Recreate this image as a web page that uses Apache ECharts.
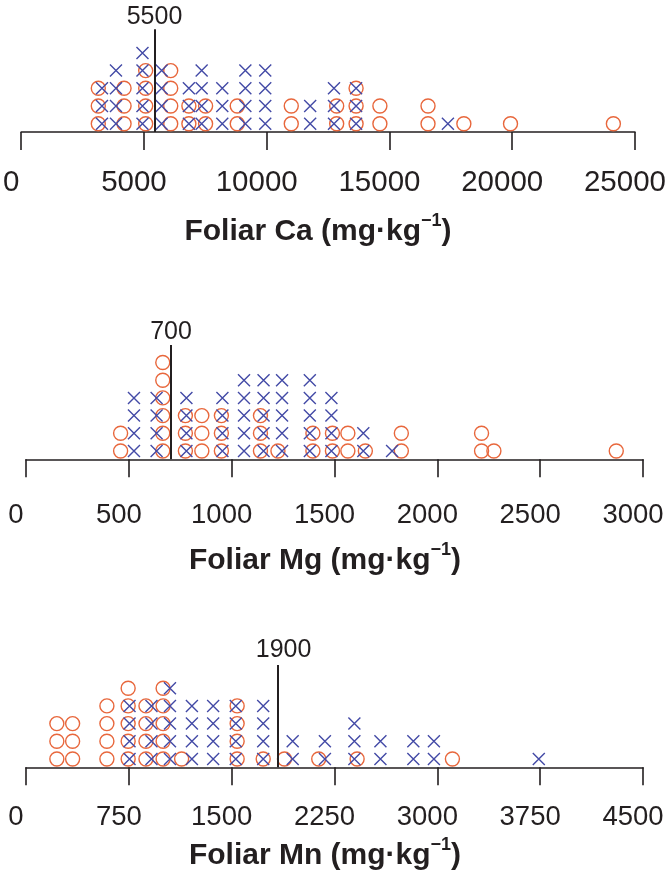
<!DOCTYPE html>
<html>
<head>
<meta charset="utf-8">
<script src="https://cdn.jsdelivr.net/npm/echarts@6/dist/echarts.min.js"></script>
<style>
  html, body { margin: 0; padding: 0; background: #fff; }
  #main { width: 669px; height: 891px; }
</style>
</head>
<body>
<div id="main"></div>
<script>
// Foliar Ca: x value of each stack and how many points are stacked there
var caCircleX = [3140, 4190, 5070, 6090, 6830, 7510, 8800, 11000, 12850, 13640, 14610, 16570, 18030, 19930, 24120];
var caCircleN = [3, 3, 4, 4, 2, 2, 2, 2, 2, 3, 2, 2, 1, 1, 1];
var caCrossX = [3290, 3860, 4940, 5720, 6830, 7350, 8190, 9130, 9940, 11770, 12740, 13640, 17380];
var caCrossN = [3, 4, 5, 4, 3, 4, 3, 4, 4, 2, 3, 3, 1];

// Foliar Mg
var mgCircleX = [460, 665, 775, 855, 950, 1140, 1225, 1395, 1490, 1565, 1650, 1825, 2215, 2275, 2870];
var mgCircleN = [2, 6, 3, 3, 3, 3, 1, 2, 2, 2, 1, 2, 2, 1, 1];
var mgCrossX = [525, 635, 780, 955, 1060, 1155, 1245, 1380, 1485, 1640, 1780];
var mgCrossN = [4, 4, 4, 4, 5, 5, 5, 5, 4, 2, 1];

// Foliar Mn
var mnCircleX = [225, 340, 590, 745, 875, 1000, 1135, 1540, 1730, 1885, 2135, 2415, 3110];
var mnCircleN = [3, 3, 4, 5, 4, 5, 1, 4, 1, 1, 1, 1, 1];
var mnCrossX = [755, 915, 1050, 1210, 1365, 1530, 1730, 1945, 2180, 2395, 2585, 2825, 2975, 3740];
var mnCrossN = [4, 4, 5, 4, 4, 4, 4, 2, 2, 3, 2, 2, 2, 1];

// axes and reference lines
var axisMax = [25000, 3000, 4500];
var axisStep = [5000, 500, 750];
var lineAt = [5430, 705, 1835];
var lineLabel = ['5500', '700', '1900'];
var titles = ['Foliar Ca', 'Foliar Mg', 'Foliar Mn'];

var ORANGE = '#e8673c';
var BLUE = '#434aa6';
var INK = '#231f20';
var FONT = "'Liberation Sans', Arial, Helvetica, sans-serif";
var CROSS = 'path://M0,0L10,10M10,0L0,10';

// layout of each panel (pixels)
var ROW = 17.7, YMIN = 0.53, YMAX = 7.53;
var panels = [
  { left: 20, width: 616, axisY: 132, lineTop: 6.33, margin: 36, tickFont: 29.5, titleX: 318, titleY: 232, labelDist: 0, labelDx: 0 },
  { left: 26, width: 617, axisY: 459.3, lineTop: 6.99, margin: 42, tickFont: 27.5, titleX: 325, titleY: 561, labelDist: 0, labelDx: 0 },
  { left: 26, width: 617, axisY: 767.3, lineTop: 6.31, margin: 36, tickFont: 27.5, titleX: 325, titleY: 856, labelDist: 2, labelDx: 6 }
];

function stack(xs, ns) {
  var pts = [];
  for (var i = 0; i < xs.length; i++) {
    for (var k = 1; k <= ns[i]; k++) {
      pts.push([xs[i], k]);
    }
  }
  return pts;
}

var circles = [stack(caCircleX, caCircleN), stack(mgCircleX, mgCircleN), stack(mnCircleX, mnCircleN)];
var crosses = [stack(caCrossX, caCrossN), stack(mgCrossX, mgCrossN), stack(mnCrossX, mnCrossN)];

var grid = [], xAxis = [], yAxis = [], series = [], graphic = [];

for (var i = 0; i < 3; i++) {
  var p = panels[i];
  var h = (YMAX - YMIN) * ROW;
  grid.push({ left: p.left, width: p.width, top: p.axisY - h, height: h });
  xAxis.push({
    type: 'value',
    gridIndex: i,
    min: 0,
    max: axisMax[i],
    interval: axisStep[i],
    splitLine: { show: false },
    axisLine: { show: true, lineStyle: { color: INK, width: 1.6 } },
    axisTick: { show: true, length: 18, lineStyle: { color: INK, width: 1.6 } },
    axisLabel: {
      fontSize: p.tickFont,
      fontFamily: FONT,
      color: INK,
      margin: p.margin,
      padding: [0, 20, 0, 0],
      showMinLabel: true,
      showMaxLabel: true,
      formatter: function (v) { return String(v); }
    }
  });
  yAxis.push({ type: 'value', gridIndex: i, min: YMIN, max: YMAX, show: false });

  series.push({
    type: 'scatter',
    xAxisIndex: i,
    yAxisIndex: i,
    symbol: 'circle',
    symbolSize: 14,
    itemStyle: { color: 'transparent', borderColor: ORANGE, borderWidth: 1.4, opacity: 1 },
    data: circles[i],
    silent: true
  });
  series.push({
    type: 'scatter',
    xAxisIndex: i,
    yAxisIndex: i,
    symbol: CROSS,
    symbolSize: 12,
    itemStyle: { color: 'transparent', borderColor: BLUE, borderWidth: 1.4, opacity: 1 },
    data: crosses[i],
    silent: true,
    markLine: {
      silent: true,
      symbol: 'none',
      animation: false,
      lineStyle: { color: INK, width: 2, type: 'solid' },
      label: {
        show: true,
        position: 'end',
        distance: p.labelDist,
        offset: [p.labelDx, 0],
        formatter: lineLabel[i],
        fontSize: 25,
        fontFamily: FONT,
        color: INK
      },
      data: [[{ coord: [lineAt[i], YMIN] }, { coord: [lineAt[i], p.lineTop] }]]
    }
  });

  graphic.push({
    type: 'text',
    x: p.titleX,
    y: p.titleY,
    style: {
      text: titles[i] + ' (mg·kg{s|−1})',
      fill: INK,
      font: 'bold 30px ' + FONT,
      align: 'center',
      verticalAlign: 'middle',
      rich: {
        s: { fontSize: 18, fontWeight: 'bold', fontFamily: FONT, fill: INK, padding: [0, 0, 22, 0] }
      }
    }
  });
}

var chart = echarts.init(document.getElementById('main'));
chart.setOption({
  animation: false,
  backgroundColor: '#fff',
  grid: grid,
  xAxis: xAxis,
  yAxis: yAxis,
  series: series,
  graphic: graphic
});
</script>
</body>
</html>
